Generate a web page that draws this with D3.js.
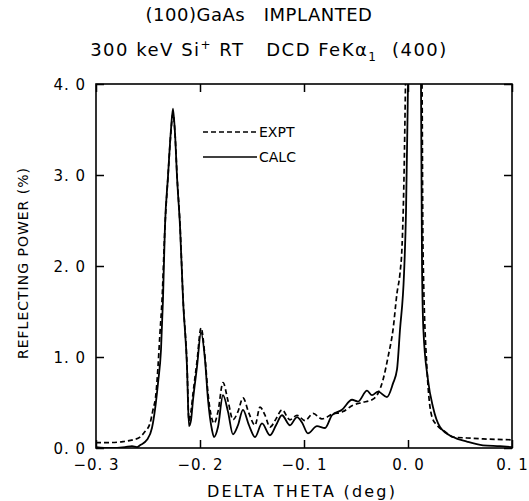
<!DOCTYPE html>
<html>
<head>
<meta charset="utf-8">
<script src="https://cdn.jsdelivr.net/npm/d3@7"></script>
<style>
  html, body { margin: 0; padding: 0; background: #fff; }
  text { font-family: "DejaVu Sans", sans-serif; fill: #000; }
</style>
</head>
<body>
<svg id="chart" width="529" height="501"></svg>
<script>
// experimental curve (dashed): [delta theta (deg), reflecting power (%)]
const expt = [
  [-0.3000, 0.06], [-0.2865, 0.06], [-0.2740, 0.07], [-0.2644, 0.09], [-0.2577, 0.12],
  [-0.2529, 0.18], [-0.2481, 0.27], [-0.2452, 0.42], [-0.2423, 0.60], [-0.2404, 0.89],
  [-0.2385, 1.26], [-0.2365, 1.63], [-0.2337, 2.43], [-0.2308, 2.98], [-0.2279, 3.48],
  [-0.2260, 3.67], [-0.2240, 3.45], [-0.2221, 3.00], [-0.2192, 2.45], [-0.2163, 1.65],
  [-0.2125, 0.92], [-0.2106, 0.30], [-0.2087, 0.40], [-0.2067, 0.60], [-0.2029, 0.95],
  [-0.1990, 1.32], [-0.1952, 1.00], [-0.1923, 0.60], [-0.1885, 0.32], [-0.1865, 0.27],
  [-0.1827, 0.40], [-0.1779, 0.72], [-0.1731, 0.52], [-0.1683, 0.31], [-0.1635, 0.40],
  [-0.1587, 0.55], [-0.1529, 0.38], [-0.1471, 0.25], [-0.1423, 0.45], [-0.1375, 0.36],
  [-0.1327, 0.23], [-0.1269, 0.32], [-0.1212, 0.42], [-0.1135, 0.31], [-0.1067, 0.36],
  [-0.0990, 0.30], [-0.0913, 0.38], [-0.0827, 0.32], [-0.0731, 0.37], [-0.0625, 0.40],
  [-0.0529, 0.47], [-0.0442, 0.50], [-0.0346, 0.53], [-0.0288, 0.60], [-0.0240, 0.75],
  [-0.0192, 1.00], [-0.0144, 1.30], [-0.0106, 1.70], [-0.0077, 1.92], [-0.0058, 2.20],
  [-0.0038, 3.00], [-0.0024, 4.00], [0.0058, 9.00], [0.0135, 4.00], [0.0144, 2.20],
  [0.0183, 0.86], [0.0231, 0.34], [0.0279, 0.25], [0.0356, 0.18], [0.0433, 0.12],
  [0.0567, 0.11], [0.0721, 0.10], [0.1000, 0.09]
];

// calculated curve (solid)
const calc = [
  [-0.3000, 0.01], [-0.2865, 0.00], [-0.2721, 0.01], [-0.2654, 0.02], [-0.2606, 0.01],
  [-0.2577, 0.03], [-0.2510, 0.09], [-0.2462, 0.22], [-0.2433, 0.42], [-0.2404, 0.71],
  [-0.2375, 1.08], [-0.2356, 1.63], [-0.2337, 2.43], [-0.2308, 2.98], [-0.2279, 3.50],
  [-0.2260, 3.73], [-0.2240, 3.45], [-0.2221, 2.98], [-0.2192, 2.43], [-0.2163, 1.63],
  [-0.2125, 0.89], [-0.2106, 0.24], [-0.2087, 0.30], [-0.2067, 0.53], [-0.2029, 0.89],
  [-0.1990, 1.27], [-0.1952, 0.97], [-0.1923, 0.53], [-0.1885, 0.20], [-0.1865, 0.12],
  [-0.1827, 0.23], [-0.1779, 0.58], [-0.1731, 0.40], [-0.1683, 0.15], [-0.1635, 0.25],
  [-0.1587, 0.42], [-0.1529, 0.25], [-0.1471, 0.12], [-0.1404, 0.27], [-0.1327, 0.14],
  [-0.1269, 0.25], [-0.1212, 0.36], [-0.1135, 0.25], [-0.1067, 0.34], [-0.1019, 0.28],
  [-0.0962, 0.16], [-0.0875, 0.24], [-0.0798, 0.22], [-0.0731, 0.36], [-0.0635, 0.42],
  [-0.0538, 0.53], [-0.0481, 0.51], [-0.0394, 0.63], [-0.0346, 0.58], [-0.0288, 0.62],
  [-0.0202, 0.56], [-0.0144, 0.71], [-0.0106, 0.86], [-0.0077, 1.30], [-0.0038, 1.92],
  [-0.0019, 2.60], [0.0000, 4.00], [0.0058, 9.00], [0.0125, 4.00], [0.0135, 2.00],
  [0.0148, 1.30], [0.0192, 0.75], [0.0240, 0.45], [0.0308, 0.23], [0.0433, 0.12],
  [0.0567, 0.07], [0.0721, 0.03], [0.0885, 0.02], [0.1000, 0.01]
];

const xTicks = [-0.3, -0.2, -0.1, 0.0, 0.1];
const yTicks = [0, 1, 2, 3, 4];

const svg = d3.select("#chart");
const margin = { top: 84, right: 17, bottom: 53, left: 96 };
const width = +svg.attr("width");
const height = +svg.attr("height");
const chartWidth = width - margin.left - margin.right;
const chartHeight = height - margin.top - margin.bottom;

const g = svg.append("g")
  .attr("transform", `translate(${margin.left},${margin.top})`);

const x = d3.scaleLinear().domain([-0.3, 0.1]).range([0, chartWidth]);
const y = d3.scaleLinear().domain([0, 4]).range([chartHeight, 0]);

const fmt = d => d3.format(".1f")(d).replace(".", ". ");

// axes, ticks point inward
const xAxisG = g.append("g")
  .attr("transform", `translate(0,${chartHeight})`)
  .call(d3.axisBottom(x).tickValues(xTicks).tickSizeInner(-8).tickSizeOuter(0).tickPadding(8).tickFormat(fmt));
const yAxisG = g.append("g")
  .call(d3.axisLeft(y).tickValues(yTicks).tickSizeInner(-8).tickSizeOuter(0).tickPadding(10).tickFormat(fmt));
g.append("g")
  .call(d3.axisTop(x).tickValues(xTicks).tickSizeInner(-8).tickSizeOuter(0).tickFormat(""));
g.append("g")
  .attr("transform", `translate(${chartWidth},0)`)
  .call(d3.axisRight(y).tickValues(yTicks).tickSizeInner(-8).tickSizeOuter(0).tickFormat(""));

g.selectAll(".domain").remove();
g.selectAll(".tick line").attr("stroke", "#000").attr("stroke-width", 1.5);
g.selectAll(".tick text")
  .style("font-size", "15px")
  .style("letter-spacing", "1px")
  .attr("fill", "#000");
xAxisG.selectAll(".tick text").attr("dy", "0.9em");
yAxisG.selectAll(".tick text").attr("dy", "0.35em");

// frame
g.append("rect")
  .attr("width", chartWidth)
  .attr("height", chartHeight)
  .attr("fill", "none")
  .attr("stroke", "#000")
  .attr("stroke-width", 1.6);

// curves, clipped to the frame
svg.append("clipPath").attr("id", "clip")
  .append("rect").attr("width", chartWidth).attr("height", chartHeight);

const line = d3.line()
  .x(d => x(d[0]))
  .y(d => y(d[1]))
  .curve(d3.curveMonotoneX);

const curves = g.append("g").attr("clip-path", "url(#clip)");
curves.append("path")
  .datum(expt)
  .attr("fill", "none")
  .attr("stroke", "#000")
  .attr("stroke-width", 1.7)
  .attr("stroke-dasharray", "5,3")
  .attr("d", line);
curves.append("path")
  .datum(calc)
  .attr("fill", "none")
  .attr("stroke", "#000")
  .attr("stroke-width", 1.8)
  .attr("d", line);

// legend
const legend = svg.append("g").attr("transform", "translate(203,132)");
legend.append("line").attr("x1", 0).attr("x2", 54).attr("y1", 0).attr("y2", 0)
  .attr("stroke", "#000").attr("stroke-width", 1.3).attr("stroke-dasharray", "5,3");
legend.append("text").attr("x", 56).attr("y", 5).style("font-size", "14px").text("EXPT");
legend.append("line").attr("x1", 0).attr("x2", 54).attr("y1", 25).attr("y2", 25)
  .attr("stroke", "#000").attr("stroke-width", 1.3);
legend.append("text").attr("x", 56).attr("y", 30).style("font-size", "14px").text("CALC");

// titles
svg.append("text")
  .attr("x", 259).attr("y", 21)
  .attr("text-anchor", "middle")
  .style("font-size", "18px")
  .style("letter-spacing", "0.5px")
  .style("white-space", "pre")
  .text("(100)GaAs   IMPLANTED");

const t2 = svg.append("text")
  .attr("x", 269).attr("y", 56)
  .attr("text-anchor", "middle")
  .style("font-size", "18px")
  .style("letter-spacing", "1.5px")
  .style("white-space", "pre");
t2.append("tspan").text("300 keV Si");
t2.append("tspan").attr("dy", -7).style("font-size", "12px").text("+");
t2.append("tspan").attr("dy", 7).text(" RT   DCD FeKα");
t2.append("tspan").attr("dy", 5).style("font-size", "12px").text("1");
t2.append("tspan").attr("dy", -5).text("  (400)");

// axis titles
svg.append("text")
  .attr("x", 302).attr("y", 497)
  .attr("text-anchor", "middle")
  .style("font-size", "16px")
  .style("letter-spacing", "2.2px")
  .text("DELTA THETA (deg)");

svg.append("text")
  .attr("transform", "rotate(-90)")
  .attr("x", -263).attr("y", 28)
  .attr("text-anchor", "middle")
  .style("font-size", "14px")
  .style("letter-spacing", "1px")
  .text("REFLECTING POWER (%)");
</script>
</body>
</html>
